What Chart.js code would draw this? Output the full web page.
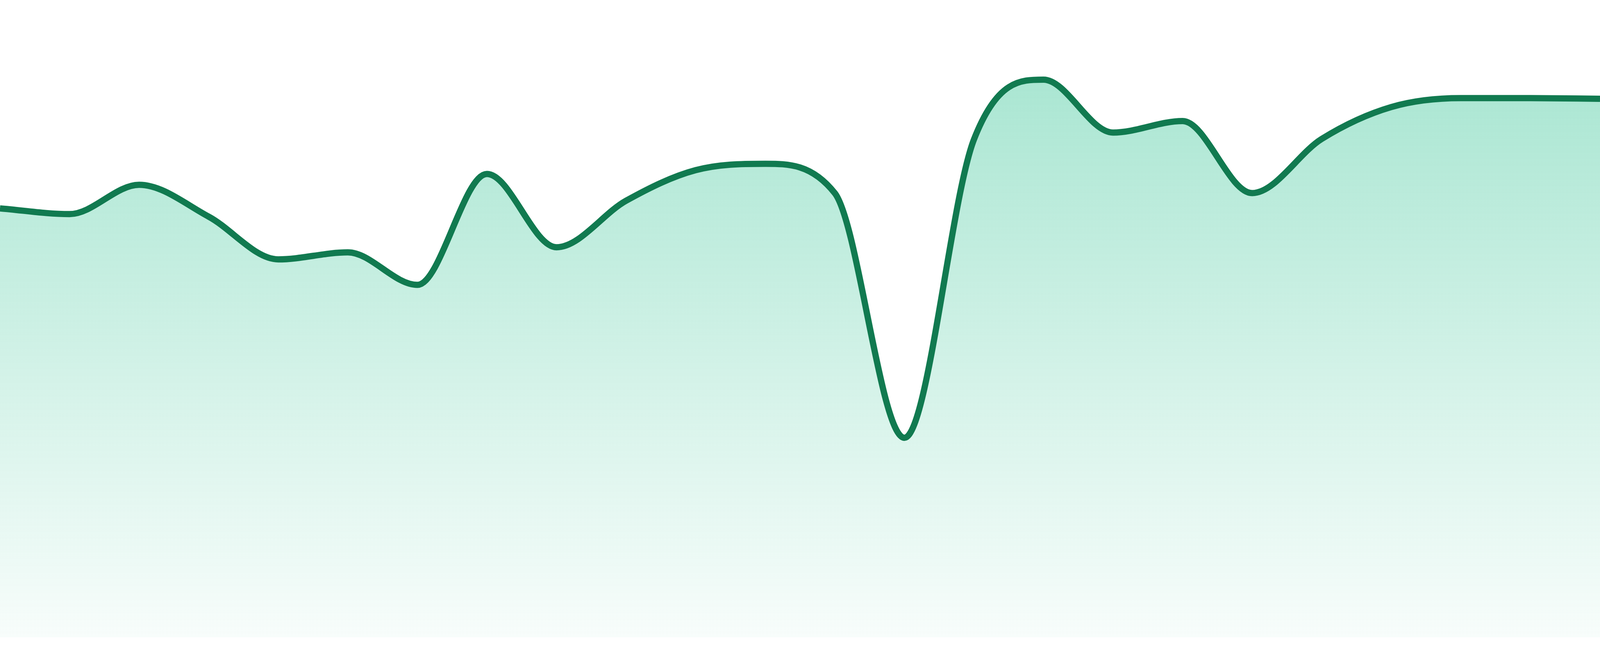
<!DOCTYPE html>
<html>
<head>
<meta charset="utf-8">
<title>Trend</title>
<script src="https://cdn.jsdelivr.net/npm/chart.js@4"></script>
<style>
    html, body { margin: 0; padding: 0; background: #ffffff; overflow: hidden; }
    #wrap { width: 100vw; height: 100vh; position: relative; }
</style>
</head>
<body>
<div id="wrap"><canvas id="trendChart"></canvas></div>
<script>
// --- Chart data ---
const labels = ['1', '2', '3', '4', '5', '6', '7', '8', '9', '10', '11', '12',
                '13', '14', '15', '16', '17', '18', '19', '20', '21', '22', '23', '24'];
const values = [67.3, 66.4, 71.0, 66.0, 59.3, 60.4, 55.3, 72.7, 61.2, 68.5, 73.3, 74.3,
                69.7, 31.3, 78.1, 87.5, 79.2, 81.0, 69.7, 78.2, 83.2, 84.6, 84.6, 84.5];
// axis range: a little room below zero so the fill stops short of the bottom edge
const yMin = -2.94;
const yMax = 100;

document.addEventListener('DOMContentLoaded', function() {
    renderTrendChart();
});

function renderTrendChart() {
    const ctx = document.getElementById('trendChart');
    if (!ctx) {
        console.error("Chart canvas not found.");
        return;
    }
    const dpr = window.devicePixelRatio || 1;

    new Chart(ctx, {
        type: 'line',
        data: {
            labels: labels,
            datasets: [{
                data: values,
                borderColor: '#117a50',
                borderWidth: 16 / dpr,   // ~16 device pixels
                pointRadius: 0,
                cubicInterpolationMode: 'monotone',
                fill: 'origin',
                // vertical fade, built once the chart area is known
                backgroundColor: function(context) {
                    const chart = context.chart;
                    const area = chart.chartArea;
                    if (!area) return 'rgba(16, 185, 129, 0.3)';
                    const zeroY = chart.scales.y.getPixelForValue(0);
                    const g = chart.ctx.createLinearGradient(0, area.top, 0, zeroY);
                    g.addColorStop(0, 'rgba(16, 185, 129, 0.40)');
                    g.addColorStop(1, 'rgba(16, 185, 129, 0.03)');
                    return g;
                }
            }]
        },
        options: {
            responsive: true,
            maintainAspectRatio: false,
            animation: false,
            layout: { padding: 0 },
            scales: {
                x: { display: false, offset: false },
                y: { display: false, min: yMin, max: yMax }
            },
            plugins: {
                legend: { display: false },
                tooltip: { enabled: false }
            }
        }
    });
}
</script>
</body>
</html>
